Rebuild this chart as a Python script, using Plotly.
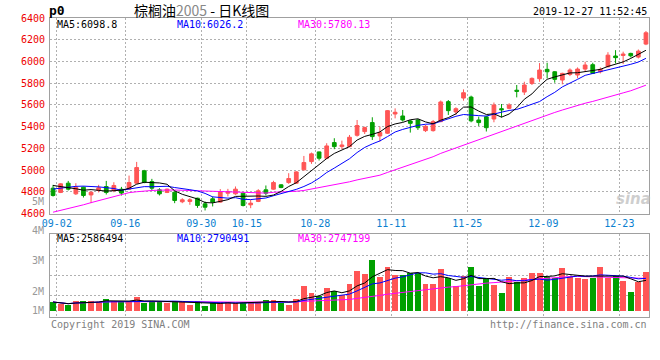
import plotly.graph_objects as go
import pandas as pd

# ---------------- data ----------------
tick_labels = ["09-02", "09-16", "09-30", "10-15", "10-28", "11-11", "11-25", "12-09", "12-23"]
tick_index = [0, 9, 19, 25, 34, 44, 54, 64, 74]

opens = [4833, 4794, 4879, 4781, 4842, 4771, 4812, 4848, 4812, 4824,
         4824, 4879, 4993, 4894, 4818, 4794, 4796, 4708, 4711, 4741,
         4689, 4735, 4705, 4787, 4781, 4787, 4680, 4711, 4818, 4824,
         4864, 4885, 4879, 5002, 5078, 5167, 5109, 5253, 5216, 5216,
         5320, 5354, 5437, 5314, 5339, 5516, 5498, 5452, 5461, 5363,
         5363, 5446, 5630, 5535, 5663, 5672, 5461, 5490, 5470, 5565,
         5568, 5735, 5718, 5798, 5841, 5927, 5905, 5829, 5880, 5875,
         5930, 5970, 5905, 5951, 6050, 6055, 6074, 6040, 6160]
highs = [4864, 4879, 4900, 4879, 4848, 4802, 4864, 4900, 4888, 4845,
         4949, 5075, 5002, 4919, 4833, 4830, 4802, 4741, 4741, 4745,
         4711, 4756, 4825, 4827, 4849, 4793, 4726, 4824, 4858, 4901,
         4870, 4971, 4990, 5130, 5161, 5170, 5247, 5293, 5271, 5323,
         5461, 5400, 5486, 5400, 5553, 5568, 5553, 5461, 5470, 5415,
         5461, 5640, 5645, 5578, 5743, 5685, 5492, 5500, 5622, 5608,
         5615, 5783, 5813, 5853, 5985, 5988, 5911, 5896, 5936, 5945,
         5997, 5988, 5945, 6085, 6104, 6090, 6080, 6110, 6280]
lows = [4756, 4788, 4812, 4771, 4747, 4695, 4794, 4775, 4796, 4766,
        4818, 4873, 4879, 4812, 4766, 4788, 4695, 4695, 4680, 4652,
        4628, 4665, 4700, 4757, 4772, 4665, 4649, 4705, 4766, 4818,
        4833, 4873, 4873, 4996, 5057, 5088, 5100, 5192, 5192, 5210,
        5308, 5332, 5277, 5262, 5332, 5476, 5446, 5345, 5369, 5350,
        5354, 5440, 5507, 5507, 5639, 5440, 5406, 5355, 5440, 5485,
        5559, 5669, 5691, 5783, 5813, 5844, 5804, 5789, 5865, 5845,
        5905, 5884, 5890, 5945, 5982, 5976, 6037, 6028, 6150]
closes = [4766, 4873, 4824, 4842, 4766, 4796, 4836, 4794, 4858, 4788,
          4885, 5023, 4885, 4833, 4781, 4824, 4720, 4726, 4726, 4674,
          4658, 4705, 4797, 4803, 4824, 4674, 4695, 4809, 4787, 4885,
          4839, 4922, 4983, 5069, 5149, 5109, 5222, 5216, 5231, 5302,
          5410, 5391, 5308, 5345, 5547, 5532, 5461, 5430, 5390, 5403,
          5446, 5627, 5547, 5565, 5712, 5453, 5437, 5390, 5599, 5555,
          5599, 5725, 5783, 5844, 5921, 5905, 5835, 5890, 5921, 5930,
          5967, 5890, 5927, 6058, 6035, 6068, 6052, 6095, 6264]
volumes = [763000, 588000, 500000, 851000, 851000, 851000, 763000, 1026000, 851000, 851000,
           734000, 1202000, 646000, 851000, 734000, 646000, 851000, 763000, 500000, 851000,
           412000, 646000, 763000, 763000, 646000, 646000, 763000, 763000, 939000, 939000,
           646000, 500000, 1026000, 2167000, 1523000, 1289000, 1962000, 1728000, 1377000, 2342000,
           3483000, 3219000, 4447000, 2985000, 3863000, 3132000, 3132000, 3337000, 3278000, 2342000,
           2342000, 3629000, 2839000, 2167000, 3044000, 3833000, 2196000, 2839000, 2254000, 1582000,
           2985000, 2546000, 2839000, 3278000, 3337000, 2985000, 2839000, 3775000, 2985000, 2839000,
           2751000, 2839000, 3833000, 2839000, 3044000, 2605000, 1670000, 2546000, 3424000]

# moving-average values for the first days (their windows start before the chart)
ma5_head = [4858, 4850, 4840, 4828]
ma10_head = [4825, 4835, 4845, 4850, 4852, 4850, 4845, 4838, 4830]
ma30_head = [4612, 4628, 4645, 4662, 4680, 4700, 4718, 4737, 4757, 4777,
             4792, 4800, 4808, 4812, 4815, 4817, 4816, 4814, 4811, 4808,
             4806, 4804, 4802, 4800, 4798, 4794, 4790, 4788, 4788]

price_ticks = [4600, 4800, 5000, 5200, 5400, 5600, 5800, 6000, 6200, 6400]
vol_tick_labels = ["4M", "3M", "2M", "1M"]

title_name, title_code, title_rest = "棕榈油", "2005", " - 日K线图"
symbol_text = "p0"
timestamp = "2019-12-27 11:52:45"
price_legend = ["MA5:6098.8", "MA10:6026.2", "MA30:5780.13"]
vol_legend = ["MA5:2586494", "MA10:2790491", "MA30:2747199"]

# ---------------- derived series ----------------
cs = pd.Series(closes, dtype=float)
ma5 = cs.rolling(5).mean().tolist()
ma10 = cs.rolling(10).mean().tolist()
ma30 = cs.rolling(30).mean().tolist()
ma5[:len(ma5_head)] = ma5_head
ma10[:len(ma10_head)] = ma10_head
ma30[:len(ma30_head)] = ma30_head

vs = pd.Series(volumes, dtype=float)
vma5 = vs.rolling(5, min_periods=1).mean().tolist()
vma10 = vs.rolling(10, min_periods=1).mean().tolist()
vma30 = vs.rolling(30, min_periods=1).mean().tolist()

# ---------------- style / geometry ----------------
RED = "#ff5555"
GREEN = "#00a000"
GRID = "#b0b0b0"
BORDER = "#a0a0a0"
MONO = "DejaVu Sans Mono"
CJK = "Noto Sans CJK SC"

L, R, T, B = 50, 649, 18, 317          # pixel frame of the whole plotting zone
PRICE_BOTTOM, VOL_TOP = 213.5, 234


def px(x):
    return (x - L) / (R - L)


def py(y):
    return (B - y) / (B - T)


n = len(closes)
idx = list(range(n))
bar_colors = [RED if c >= o else GREEN for o, c in zip(opens, closes)]
grid_x = [i + 0.5 for i in tick_index]

fig = go.Figure()
fig.add_trace(go.Candlestick(
    x=idx, open=opens, high=highs, low=lows, close=closes,
    increasing=dict(line=dict(color=RED, width=1), fillcolor=RED),
    decreasing=dict(line=dict(color=GREEN, width=1), fillcolor=GREEN),
    whiskerwidth=0, showlegend=False, xaxis="x", yaxis="y"))
for series, col in [(ma30, "#ff00ff"), (ma10, "#0000ff"), (ma5, "#000000")]:
    fig.add_trace(go.Scatter(x=idx, y=series, mode="lines", line=dict(color=col, width=1),
                             showlegend=False, hoverinfo="skip", xaxis="x", yaxis="y"))

fig.add_trace(go.Bar(x=idx, y=volumes, marker=dict(color=bar_colors, line=dict(width=0)),
                     width=0.78, showlegend=False, xaxis="x2", yaxis="y2"))
for series, col in [(vma30, "#ff00ff"), (vma10, "#0000ff"), (vma5, "#000000")]:
    fig.add_trace(go.Scatter(x=idx, y=series, mode="lines", line=dict(color=col, width=1),
                             showlegend=False, hoverinfo="skip", xaxis="x2", yaxis="y2"))

xr = [-0.4, n - 1 + 0.4]
axis_common = dict(showline=True, linecolor=BORDER, linewidth=1, mirror=True,
                   zeroline=False, showgrid=True, gridcolor=GRID, gridwidth=1,
                   griddash="2px,2px", ticks="", fixedrange=True)

vol_scale = 11.4 / 1e6   # px per lot
vol_range = [-(B - 310.7) / vol_scale, (310.7 - VOL_TOP) / vol_scale]
vol_grid = [(310.7 - yy) / vol_scale for yy in (255, 275.7, 295.7)]

fig.update_layout(
    width=660, height=360,
    margin=dict(l=L, r=660 - R, t=T, b=360 - B, pad=0),
    paper_bgcolor="white", plot_bgcolor="white",
    bargap=0, showlegend=False,
    xaxis=dict(domain=[0, 1], range=xr, anchor="y", tickvals=grid_x, ticktext=tick_labels,
               tickfont=dict(family=MONO, size=10, color="#0a7fd0"),
               rangeslider=dict(visible=False), ticklabelstandoff=0, **axis_common),
    yaxis=dict(domain=[py(PRICE_BOTTOM), 1], range=[price_ticks[0], price_ticks[-1]],
               tickvals=price_ticks, ticktext=[str(v) for v in price_ticks],
               tickfont=dict(family=MONO, size=10, color="#ee0000"), ticklabelstandoff=2,
               **axis_common),
    xaxis2=dict(domain=[0, 1], range=xr, anchor="y2", tickvals=grid_x, showticklabels=False,
                **axis_common),
    yaxis2=dict(domain=[0, py(VOL_TOP)], range=vol_range, tickvals=vol_grid,
                showticklabels=False, **axis_common),
)

ann = []


def text(x, y, s, color="#000", size=10, family=MONO, xanchor="left", **kw):
    ann.append(dict(x=px(x), y=py(y), xref="paper", yref="paper", text=s, showarrow=False,
                    xanchor=xanchor, yanchor="middle",
                    font=dict(family=family, size=size, color=color), **kw))


# header
text(47, 10, "<b>" + symbol_text + "</b>", size=13)
text(201, 10, title_name + '<span style="color:#888888">' + title_code + "</span>" + title_rest,
     size=14, family=CJK, xanchor="center")
text(649, 11, timestamp, xanchor="right")

# MA legends
leg_x = [55, 175, 296]
leg_c = ["#000000", "#0000ff", "#ff00ff"]
for xx, s, c in zip(leg_x, price_legend, leg_c):
    text(xx, 25, s, color=c)
for xx, s, c in zip(leg_x, vol_legend, leg_c):
    text(xx, 238.5, s, color=c)

# volume scale labels (as drawn in the reference)
for s, yy in zip(vol_tick_labels, [230.7, 260.7, 291, 310]):
    text(46, yy, s, color="#999999", xanchor="right")
text(46, 201, "5M", color="#999999", xanchor="right")

# footer
text(49, 324, "Copyright 2019 SINA.COM", color="#808080")
text(649, 324, "http://finance.sina.com.cn", color="#808080", xanchor="right")

# watermark
text(633, 199, "<b><i>sina</i></b>", color="rgba(190,190,190,0.75)", size=15,
     family="DejaVu Sans", xanchor="center")

fig.update_layout(annotations=ann)
fig.write_html("out.html", config={"displayModeBar": False},
               post_script="document.body.style.margin='0';document.body.style.overflow='hidden';")
